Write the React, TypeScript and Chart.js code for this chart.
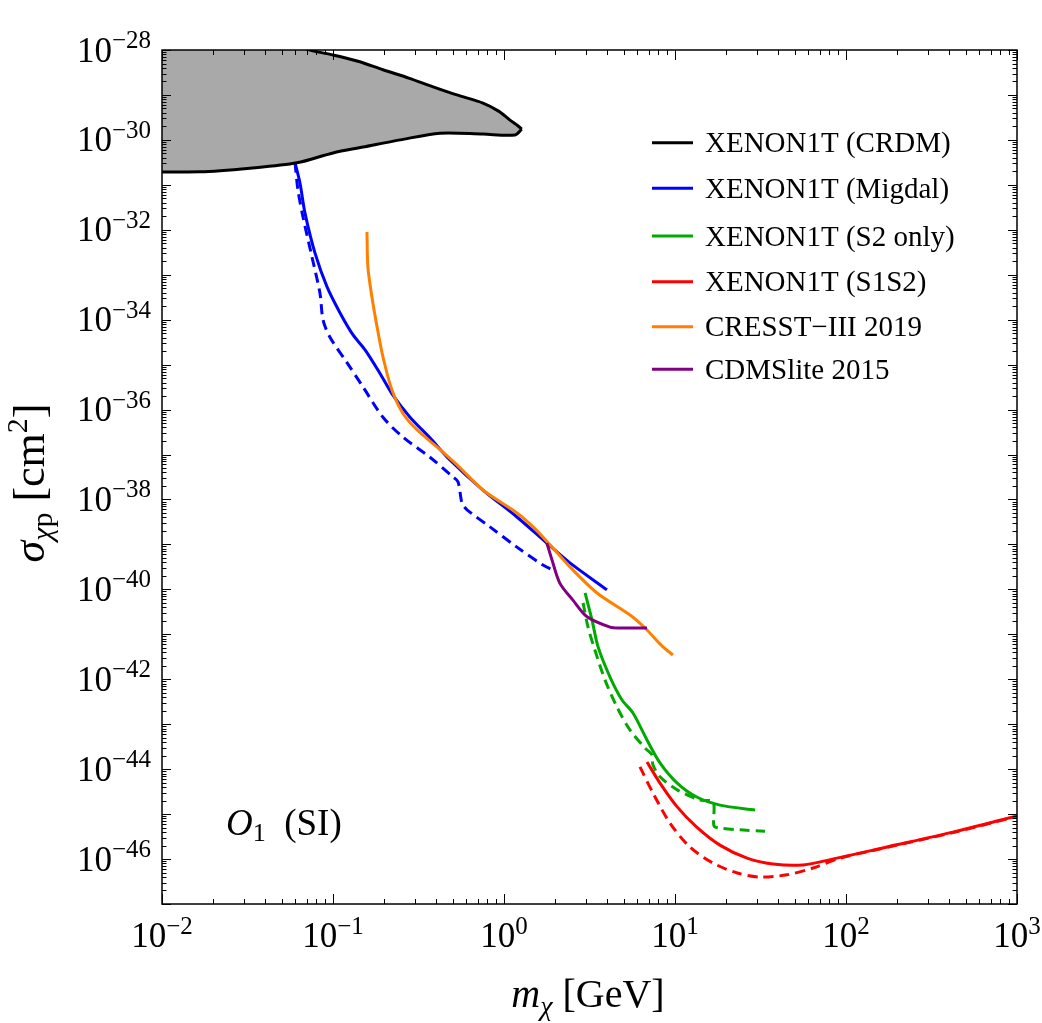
import React, { useEffect, useRef } from "react";
import { Chart, registerables } from "chart.js";

Chart.register(...registerables);

const X_MIN = 1e-2;
const X_MAX = 1e3;
const Y_MIN = 1e-47;
const Y_MAX = 1e-28;

// Masses in GeV, cross sections as log10(sigma / cm^2)
const crdmUpperMass = [0.005, 0.03, 0.06, 0.0763, 0.1, 0.14, 0.196, 0.28, 0.385, 0.53, 0.753, 0.93, 1.084, 1.2, 1.27];
const crdmUpperLogSigma = [-27.5, -27.7, -27.9, -28.02, -28.11, -28.25, -28.44, -28.63, -28.82, -29.0, -29.18, -29.36, -29.56, -29.68, -29.76];

const crdmLowerMass = [0.005, 0.0167, 0.0327, 0.0615, 0.1, 0.15, 0.247, 0.423, 0.753, 1.16, 1.27];
const crdmLowerLogSigma = [-30.71, -30.71, -30.63, -30.51, -30.29, -30.16, -30.0, -29.85, -29.87, -29.89, -29.76];

const migdalMass = [0.06, 0.0641, 0.0686, 0.0785, 0.0923, 0.11, 0.131, 0.154, 0.188, 0.224, 0.282, 0.369, 0.483, 0.753, 1.19, 1.78, 2.43, 4.0];
const migdalLogSigma = [-30.51, -30.96, -31.63, -32.52, -33.27, -33.85, -34.34, -34.67, -35.19, -35.68, -36.17, -36.63, -37.12, -37.79, -38.39, -38.97, -39.41, -40.01];

const migdalDashedMass = [0.06, 0.0624, 0.0668, 0.0754, 0.0839, 0.0875, 0.096, 0.121, 0.15, 0.196, 0.256, 0.369, 0.504, 0.539, 0.568, 0.608, 0.828, 1.19, 1.69, 1.94];
const migdalDashedLogSigma = [-30.51, -31.12, -31.72, -32.61, -33.41, -34.01, -34.39, -34.96, -35.5, -36.17, -36.61, -37.06, -37.5, -37.61, -38.08, -38.23, -38.61, -39.06, -39.46, -39.57];

const s2Mass = [2.98, 3.27, 3.55, 4.17, 4.9, 5.68, 6.86, 8.17, 10.3, 13.4, 18.3, 29.4];
const s2LogSigma = [-40.08, -40.68, -41.28, -41.95, -42.46, -42.75, -43.35, -43.86, -44.31, -44.62, -44.8, -44.91];

const s2DashedMass = [2.9, 3.1, 3.4, 3.9, 4.58, 5.46, 6.68, 7.33, 7.43, 8.17, 10.3, 14.0, 16.7, 16.9, 18.3, 24.0, 33.6];
const s2DashedLogSigma = [-40.3, -40.84, -41.35, -42.02, -42.62, -43.13, -43.53, -43.68, -43.9, -44.17, -44.46, -44.69, -44.73, -45.26, -45.31, -45.35, -45.38];

const s1s2Mass = [6.86, 8.17, 10.3, 13.4, 18.3, 26.4, 37.4, 56.1, 88.5, 174, 423, 1000];
const s1s2LogSigma = [-43.84, -44.31, -44.84, -45.29, -45.69, -45.98, -46.11, -46.13, -45.98, -45.73, -45.4, -45.04];

const s1s2DashedMass = [6.24, 7.43, 9.35, 12.2, 16.7, 23.1, 31.4, 45.2, 64.1, 92.2, 174, 423, 1000];
const s1s2DashedLogSigma = [-43.95, -44.53, -45.2, -45.73, -46.09, -46.31, -46.4, -46.35, -46.2, -45.98, -45.74, -45.41, -45.05];

const cresstMass = [0.158, 0.16, 0.169, 0.181, 0.196, 0.221, 0.256, 0.31, 0.405, 0.531, 0.753, 1.19, 1.48, 1.86, 2.43, 3.5, 5.46, 6.68, 8.51, 9.73];
const cresstLogSigma = [-32.05, -32.83, -33.5, -34.16, -34.83, -35.56, -36.08, -36.45, -36.83, -37.23, -37.79, -38.3, -38.61, -39.01, -39.5, -40.08, -40.57, -40.86, -41.28, -41.46];

const cdmsMass = [1.78, 1.91, 2.12, 2.53, 3.06, 4.17, 4.77, 6.86];
const cdmsLogSigma = [-38.97, -39.35, -39.86, -40.24, -40.61, -40.84, -40.86, -40.86];

const legendLabels = [
  "XENON1T (CRDM)",
  "XENON1T (Migdal)",
  "XENON1T (S2 only)",
  "XENON1T (S1S2)",
  "CRESST\u2212III 2019",
  "CDMSlite 2015",
];
const legendColors = ["#000000", "#0000ff", "#00aa00", "#ff0000", "#ff8000", "#800080"];

const xTickExponents = [-2, -1, 0, 1, 2, 3];
const yTickExponents = [-28, -30, -32, -34, -36, -38, -40, -42, -44, -46];

const SERIF = '"Liberation Serif", "Times New Roman", serif';

const toPoints = (mass: number[], logSigma: number[]) =>
  mass.map((m, i) => ({ x: m, y: Math.pow(10, logSigma[i]) }));

type Part = { t: string; font: string; dy: number };

function drawParts(
  ctx: CanvasRenderingContext2D,
  parts: Part[],
  x: number,
  y: number,
  align: "left" | "center" | "right"
) {
  let total = 0;
  for (const p of parts) {
    ctx.font = p.font;
    total += ctx.measureText(p.t).width;
  }
  let cx = align === "left" ? x : align === "center" ? x - total / 2 : x - total;
  ctx.textAlign = "left";
  ctx.textBaseline = "alphabetic";
  for (const p of parts) {
    ctx.font = p.font;
    ctx.fillText(p.t, cx, y + p.dy);
    cx += ctx.measureText(p.t).width;
  }
}

const powParts = (e: number): Part[] => [
  { t: "10", font: `35px ${SERIF}`, dy: 0 },
  { t: e < 0 ? `\u2212${-e}` : `${e}`, font: `25px ${SERIF}`, dy: -13.5 },
];

const framePlugin = {
  id: "frameAndLabels",
  afterDraw(chart: any) {
    const ctx: CanvasRenderingContext2D = chart.ctx;
    const { left, right, top, bottom } = chart.chartArea;
    const xs = chart.scales.x;
    const ys = chart.scales.y;
    ctx.save();
    ctx.strokeStyle = "#000";
    ctx.fillStyle = "#000";

    // minor and major ticks on all four sides, pointing inward
    ctx.lineWidth = 1;
    ctx.beginPath();
    for (let e = -2; e <= 3; e++) {
      for (let j = 1; j <= 9; j++) {
        const v = j * Math.pow(10, e);
        if (v > X_MAX * 1.0001) break;
        const px = Math.round(xs.getPixelForValue(v)) + 0.5;
        const len = j === 1 ? 10 : 5;
        ctx.moveTo(px, bottom);
        ctx.lineTo(px, bottom - len);
        ctx.moveTo(px, top);
        ctx.lineTo(px, top + len);
      }
    }
    for (let e = -47; e <= -28; e++) {
      for (let j = 1; j <= 9; j++) {
        const v = j * Math.pow(10, e);
        if (v > Y_MAX * 1.0001) break;
        const py = Math.round(ys.getPixelForValue(v)) + 0.5;
        const len = j === 1 ? 9 : 4.5;
        ctx.moveTo(left, py);
        ctx.lineTo(left + len, py);
        ctx.moveTo(right, py);
        ctx.lineTo(right - len, py);
      }
    }
    ctx.stroke();

    ctx.lineWidth = 1.5;
    ctx.strokeRect(left, top, right - left, bottom - top);

    // tick labels
    for (const e of xTickExponents) {
      const px = xs.getPixelForValue(Math.pow(10, e));
      drawParts(ctx, powParts(e), px, bottom + 43, "center");
    }
    for (const e of yTickExponents) {
      const py = ys.getPixelForValue(Math.pow(10, e));
      drawParts(ctx, powParts(e), left - 11, py + 11.5, "right");
    }

    // axis titles
    drawParts(
      ctx,
      [
        { t: "m", font: `italic 40px ${SERIF}`, dy: 0 },
        { t: "\u03c7", font: `italic 28px ${SERIF}`, dy: 8 },
        { t: " [GeV]", font: `40px ${SERIF}`, dy: 0 },
      ],
      588,
      1007,
      "center"
    );
    ctx.save();
    ctx.translate(44, 483);
    ctx.rotate(-Math.PI / 2);
    drawParts(
      ctx,
      [
        { t: "\u03c3", font: `italic 44px ${SERIF}`, dy: 0 },
        { t: "\u03c7", font: `italic 30px ${SERIF}`, dy: 8 },
        { t: "p", font: `30px ${SERIF}`, dy: 8 },
        { t: " [cm", font: `44px ${SERIF}`, dy: 0 },
        { t: "2", font: `30px ${SERIF}`, dy: -17 },
        { t: "]", font: `44px ${SERIF}`, dy: 0 },
      ],
      0,
      0,
      "center"
    );
    ctx.restore();

    // operator label
    drawParts(
      ctx,
      [
        { t: "O", font: `italic 37px ${SERIF}`, dy: 0 },
        { t: "1", font: `26px ${SERIF}`, dy: 6 },
        { t: "  (SI)", font: `37px ${SERIF}`, dy: 0 },
      ],
      226,
      835,
      "left"
    );

    // legend
    const rowY = [142.7, 188.3, 236, 281.7, 326.7, 369.3];
    legendLabels.forEach((label, i) => {
      const y = rowY[i];
      ctx.strokeStyle = legendColors[i];
      ctx.lineWidth = 3;
      ctx.beginPath();
      ctx.moveTo(652, y);
      ctx.lineTo(693, y);
      ctx.stroke();
      ctx.fillStyle = "#000";
      ctx.font = `29px ${SERIF}`;
      ctx.textAlign = "left";
      ctx.textBaseline = "alphabetic";
      ctx.fillText(label, 705, y + 9.5);
    });

    ctx.restore();
  },
};

export default function App() {
  const canvasRef = useRef<HTMLCanvasElement | null>(null);

  useEffect(() => {
    const canvas = canvasRef.current;
    if (!canvas) return;

    const line = (
      label: string,
      data: { x: number; y: number }[],
      color: string,
      dashed: boolean,
      order: number
    ) => ({
      label,
      data,
      borderColor: color,
      backgroundColor: color,
      borderWidth: 3,
      borderDash: dashed ? [10, 6] : [],
      pointRadius: 0,
      fill: false,
      tension: 0.3,
      order,
    });

    const chart = new Chart(canvas, {
      type: "line",
      data: {
        datasets: [
          {
            label: "XENON1T (CRDM) upper",
            data: toPoints(crdmUpperMass, crdmUpperLogSigma),
            borderColor: "#000",
            backgroundColor: "#a9a9a9",
            borderWidth: 3,
            pointRadius: 0,
            fill: "+1",
            tension: 0.3,
            clip: 0,
            order: 1,
          } as any,
          {
            label: "XENON1T (CRDM) lower",
            data: toPoints(crdmLowerMass, crdmLowerLogSigma),
            borderColor: "#000",
            backgroundColor: "#a9a9a9",
            borderWidth: 3,
            pointRadius: 0,
            fill: false,
            tension: 0.3,
            clip: 0,
            order: 0,
          } as any,
          line("CDMSlite 2015", toPoints(cdmsMass, cdmsLogSigma), "#800080", false, 2),
          line("CRESST-III 2019", toPoints(cresstMass, cresstLogSigma), "#ff8000", false, 3),
          line("XENON1T (S1S2)", toPoints(s1s2Mass, s1s2LogSigma), "#ff0000", false, 4),
          line("XENON1T (S1S2) dashed", toPoints(s1s2DashedMass, s1s2DashedLogSigma), "#ff0000", true, 4),
          line("XENON1T (S2 only)", toPoints(s2Mass, s2LogSigma), "#00aa00", false, 5),
          line("XENON1T (S2 only) dashed", toPoints(s2DashedMass, s2DashedLogSigma), "#00aa00", true, 5),
          line("XENON1T (Migdal)", toPoints(migdalMass, migdalLogSigma), "#0000ff", false, 6),
          line("XENON1T (Migdal) dashed", toPoints(migdalDashedMass, migdalDashedLogSigma), "#0000ff", true, 6),
        ],
      },
      options: {
        animation: false,
        responsive: false,
        layout: { padding: { left: 162, top: 50, right: 25, bottom: 119 } },
        scales: {
          x: { type: "logarithmic", min: X_MIN, max: X_MAX, display: false },
          y: { type: "logarithmic", min: Y_MIN, max: Y_MAX, display: false },
        },
        plugins: {
          legend: { display: false },
          tooltip: { enabled: false },
        },
        elements: { point: { radius: 0 } },
      } as any,
      plugins: [framePlugin],
    });

    return () => chart.destroy();
  }, []);

  return (
    <div style={{ position: "fixed", left: 0, top: 0, width: 1042, height: 1023, background: "#fff" }}>
      <canvas ref={canvasRef} width={1042} height={1023} style={{ display: "block" }} />
    </div>
  );
}
